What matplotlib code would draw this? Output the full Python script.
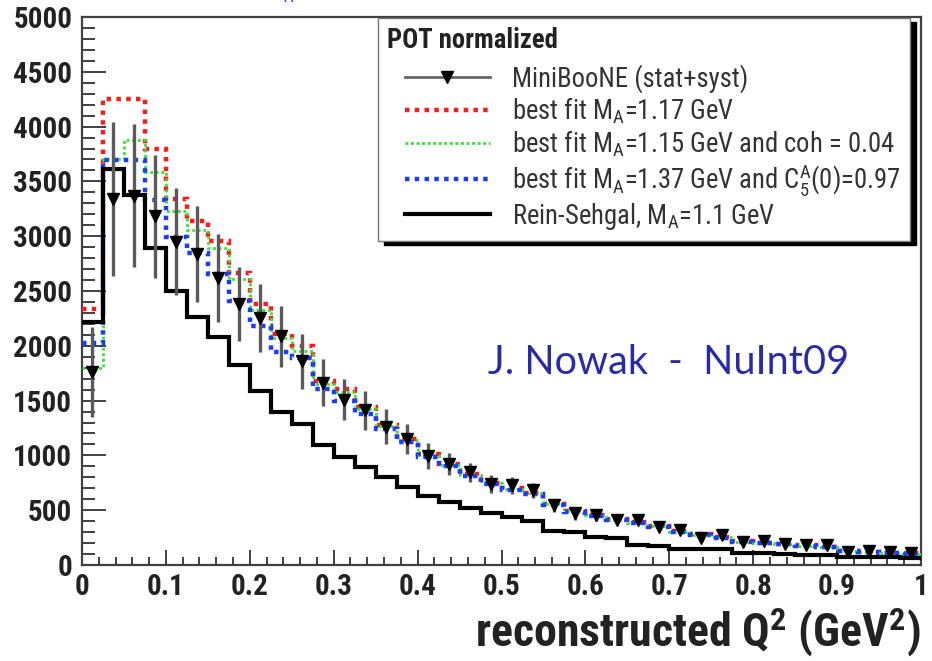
import matplotlib
matplotlib.use('Agg')
import matplotlib.pyplot as plt
from matplotlib import font_manager as fm
from matplotlib.lines import Line2D
from matplotlib.legend_handler import HandlerLine2D
from matplotlib.ticker import MultipleLocator, FuncFormatter
import numpy as np


def pick_bold(fams):
    for f in fams:
        ws = [e.weight for e in fm.fontManager.ttflist if e.name == f]
        ws = [w if isinstance(w, int) else fm.weight_dict.get(w, 400) for w in ws]
        if any(w >= 600 for w in ws) and any(w <= 500 for w in ws):
            return f
    return 'Liberation Sans'


def pick(fams):
    for f in fams:
        try:
            fm.findfont(fm.FontProperties(family=f), fallback_to_default=False)
            return f
        except Exception:
            pass
    return 'DejaVu Sans'


NARROW = pick_bold(['Roboto Condensed', 'PT Sans Narrow', 'Arial Narrow', 'Archivo Narrow',
                    'IBM Plex Sans Condensed', 'Fira Sans Condensed', 'Liberation Sans'])
plt.rcParams['font.family'] = [NARROW, 'DejaVu Sans']
plt.rcParams['mathtext.fontset'] = 'custom'
plt.rcParams['mathtext.rm'] = NARROW
plt.rcParams['mathtext.it'] = NARROW + ':italic'
plt.rcParams['mathtext.bf'] = NARROW + ':bold'

# ---------------- data (40 bins of 0.025 GeV^2) ----------------
q2_edges = np.round(np.arange(41) * 0.025, 4)

miniboone = [1760, 3340, 3370, 3180, 2950, 2840, 2620, 2380, 2250, 2085,
             1860, 1665, 1510, 1410, 1260, 1150, 995, 924, 845, 740,
             727, 682, 545, 470, 455, 409, 409, 348, 318, 242,
             273, 212, 218, 191, 182, 182, 121, 127, 121, 112]
miniboone_err = [410, 700, 650, 560, 490, 440, 400, 340, 310, 275,
                 250, 215, 190, 175, 160, 135, 120, 100, 90, 80,
                 75, 70, 60, 55, 50, 45, 45, 40, 38, 35,
                 33, 30, 30, 28, 27, 26, 25, 25, 24, 24]
fit_ma117 = [2340, 4250, 4250, 3797, 3340, 3140, 2960, 2666, 2385, 2106,
             2000, 1680, 1610, 1440, 1280, 1150, 1010, 920, 830, 750,
             700, 660, 560, 495, 460, 420, 390, 360, 310, 280,
             260, 215, 205, 195, 178, 168, 128, 122, 114, 105]
fit_ma115_coh = [1800, 3706, 3880, 3590, 3227, 3060, 2894, 2606, 2330, 2075,
                 1954, 1650, 1580, 1420, 1270, 1140, 1000, 915, 825, 745,
                 695, 655, 555, 490, 455, 415, 385, 355, 305, 275,
                 255, 212, 202, 192, 175, 165, 126, 120, 112, 102]
fit_ma137_c5a = [2030, 3697, 3697, 3333, 2994, 2850, 2655, 2409, 2182, 1939,
                 1890, 1606, 1500, 1382, 1240, 1120, 985, 905, 815, 738,
                 688, 648, 548, 485, 450, 410, 380, 350, 300, 270,
                 250, 208, 198, 188, 172, 162, 124, 118, 110, 100]
rein_sehgal = [2220, 3615, 3380, 2894, 2503, 2265, 2083, 1825, 1591, 1394,
               1284, 1091, 985, 894, 803, 712, 628, 576, 524, 476,
               439, 400, 310, 300, 255, 250, 180, 175, 150, 150,
               145, 108, 106, 104, 91, 90, 72, 70, 70, 68]

labels = ['MiniBooNE (stat+syst)',
          r'best fit M$_{\mathrm{A}}$=1.17 GeV',
          r'best fit M$_{\mathrm{A}}$=1.15 GeV and coh = 0.04',
          r'best fit M$_{\mathrm{A}}$=1.37 GeV and C$_{\mathrm{5}}^{\mathrm{A}}$(0)=0.97',
          r'Rein-Sehgal, M$_{\mathrm{A}}$=1.1 GeV']

RED = '#ff1a1a'
GREEN = '#2ee62e'
BLUE = '#1a3cff'

# ---------------- figure ----------------
W, H = 932, 661
fig = plt.figure(figsize=(W / 100, H / 100), dpi=100)
ax = fig.add_axes([82 / W, 1 - 565 / H, (921 - 82) / W, (565 - 17) / H])

centers = 0.5 * (q2_edges[:-1] + q2_edges[1:])

ax.stairs(fit_ma117, q2_edges, color=RED, lw=3.2, ls=(0, (1, 1.2)), baseline=None, zorder=3)
ax.stairs(fit_ma115_coh, q2_edges, color=GREEN, lw=2.0, ls=(0, (1, 1.0)), baseline=None, zorder=3)
ax.stairs(fit_ma137_c5a, q2_edges, color=BLUE, lw=3.2, ls=(0, (1, 1.2)), baseline=None, zorder=3)
ax.stairs(rein_sehgal, q2_edges, color='black', lw=3.0, baseline=None, zorder=4)
ax.errorbar(centers, miniboone, yerr=miniboone_err, fmt='v', color='black',
            ecolor='#5a5a5a', elinewidth=2.4, capsize=0, ms=9, zorder=5)

ax.set_xlim(0, 1)
ax.set_ylim(0, 5000)

for s in ax.spines.values():
    s.set_linewidth(1.6)
    s.set_color('#404040')

ax.xaxis.set_major_locator(MultipleLocator(0.1))
ax.xaxis.set_minor_locator(MultipleLocator(0.02))
ax.yaxis.set_major_locator(MultipleLocator(500))
ax.yaxis.set_minor_locator(MultipleLocator(100))
ax.xaxis.set_major_formatter(FuncFormatter(lambda v, p: '%g' % round(v, 3)))
ax.tick_params(axis='both', which='both', direction='in', top=False, right=False,
               color='#404040', width=1.4)
ax.tick_params(axis='x', which='major', length=11, pad=6, labelsize=21)
ax.tick_params(axis='x', which='minor', length=6)
ax.tick_params(axis='y', which='major', length=17, pad=7, labelsize=21)
ax.tick_params(axis='y', which='minor', length=9)
for lab in ax.get_xticklabels() + ax.get_yticklabels():
    lab.set_fontweight('bold')
    lab.set_color('#222222')

ax.set_xlabel(r'reconstructed Q$^{\mathbf{2}}$ (GeV$^{\mathbf{2}}$)', loc='right',
              fontsize=33, fontweight='bold', color='#222222', labelpad=3)

# annotation
ax.text(0.484, 1845, 'J. Nowak  -  NuInt09', color='#2a2aa8', fontsize=28.5,
        family=[pick(['Lato', 'Open Sans', 'DejaVu Sans'])], va='center', ha='left')
fig.text(0.304, 0.992, 'A', color='#3a3ad0', fontsize=12, va='bottom', ha='left')

# legend
handles = [Line2D([], [], color='#666666', lw=2, marker='v', mfc='k', mec='k', ms=9),
           Line2D([], [], color=RED, lw=3.2, ls=(0, (1, 1.2))),
           Line2D([], [], color=GREEN, lw=2.0, ls=(0, (1, 1.0))),
           Line2D([], [], color=BLUE, lw=3.2, ls=(0, (1, 1.2))),
           Line2D([], [], color='black', lw=3.0)]
hmap = {h: HandlerLine2D(xpad=0.65) for h in handles}
leg = ax.legend(handles, labels, title='POT normalized', alignment='left',
                loc='upper left', bbox_to_anchor=((378 - 82) / 839, 0.998),
                fontsize=19.2, title_fontproperties={'weight': 'bold', 'size': 19.2},
                frameon=True, fancybox=False, edgecolor='#777777', framealpha=1,
                shadow={'ox': 4.5, 'oy': -3, 'color': 'black', 'alpha': 1},
                handlelength=3.84, handletextpad=0.82, labelspacing=0.1,
                borderpad=0.35, borderaxespad=0.0, handler_map=hmap)
leg._legend_box.sep = 7
leg.get_frame().set_linewidth(1.0)
leg.set_zorder(10)
for t in leg.get_texts():
    t.set_color('#333333')
leg.get_title().set_color('#222222')

fig.savefig('out.png', dpi=100, facecolor='white')
